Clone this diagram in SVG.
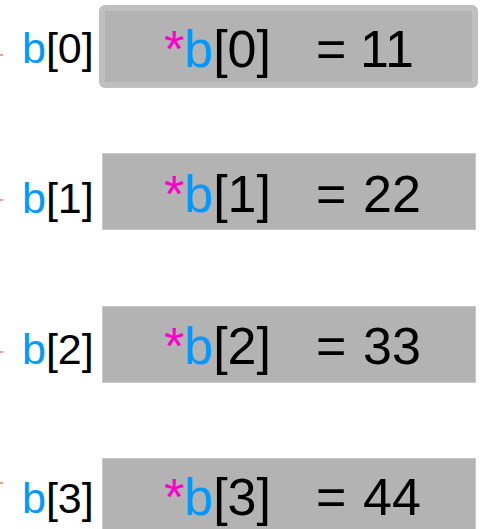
<svg xmlns="http://www.w3.org/2000/svg" width="481" height="529" viewBox="0 0 481 529">
<style>
.box{fill:#b3b3b3;stroke:#c8c8c8;stroke-width:1}
.sel{fill:#b3b3b3;stroke:#bfbfbf;stroke-width:6}
.lbl{font-family:"Liberation Sans",Arial,sans-serif;font-size:43px;fill:#000}
.val{font-family:"Liberation Sans",Arial,sans-serif;font-size:52px;fill:#000}
.b{fill:#0099ff}
.s{fill:#ff00cc}
.tip{stroke:#ff5a2a;stroke-width:1.2}
</style>
<g id="connectors">
<line class="tip" x1="0" y1="55" x2="3" y2="55"/>
<line class="tip" x1="0" y1="200" x2="3" y2="200"/>
<line class="tip" x1="0" y1="352" x2="3" y2="352"/>
<line class="tip" x1="0" y1="483" x2="3" y2="483"/>
</g>
<g id="node0">
<rect class="sel" x="102" y="8" width="373" height="77" rx="3"/>
<text class="lbl" x="22" y="63"><tspan class="b">b</tspan>[0]</text>
<text class="val" x="164" y="67"><tspan class="s">*</tspan><tspan class="b">b</tspan>[0]</text>
<text class="val" x="316" y="67">=</text>
<text class="val" x="360" y="67">11</text>
</g>
<g id="node1">
<rect class="box" x="102.5" y="153.5" width="373" height="76"/>
<text class="lbl" x="22" y="213"><tspan class="b">b</tspan>[1]</text>
<text class="val" x="164" y="212"><tspan class="s">*</tspan><tspan class="b">b</tspan>[1]</text>
<text class="val" x="316" y="212">=</text>
<text class="val" x="363" y="212">22</text>
</g>
<g id="node2">
<rect class="box" x="102.5" y="306.5" width="373" height="76"/>
<text class="lbl" x="22" y="364"><tspan class="b">b</tspan>[2]</text>
<text class="val" x="164" y="364"><tspan class="s">*</tspan><tspan class="b">b</tspan>[2]</text>
<text class="val" x="316" y="364">=</text>
<text class="val" x="363" y="364">33</text>
</g>
<g id="node3">
<rect class="box" x="102.5" y="458.5" width="373" height="76"/>
<text class="lbl" x="22" y="513"><tspan class="b">b</tspan>[3]</text>
<text class="val" x="164" y="515"><tspan class="s">*</tspan><tspan class="b">b</tspan>[3]</text>
<text class="val" x="316" y="515">=</text>
<text class="val" x="363" y="515">44</text>
</g>
</svg>
